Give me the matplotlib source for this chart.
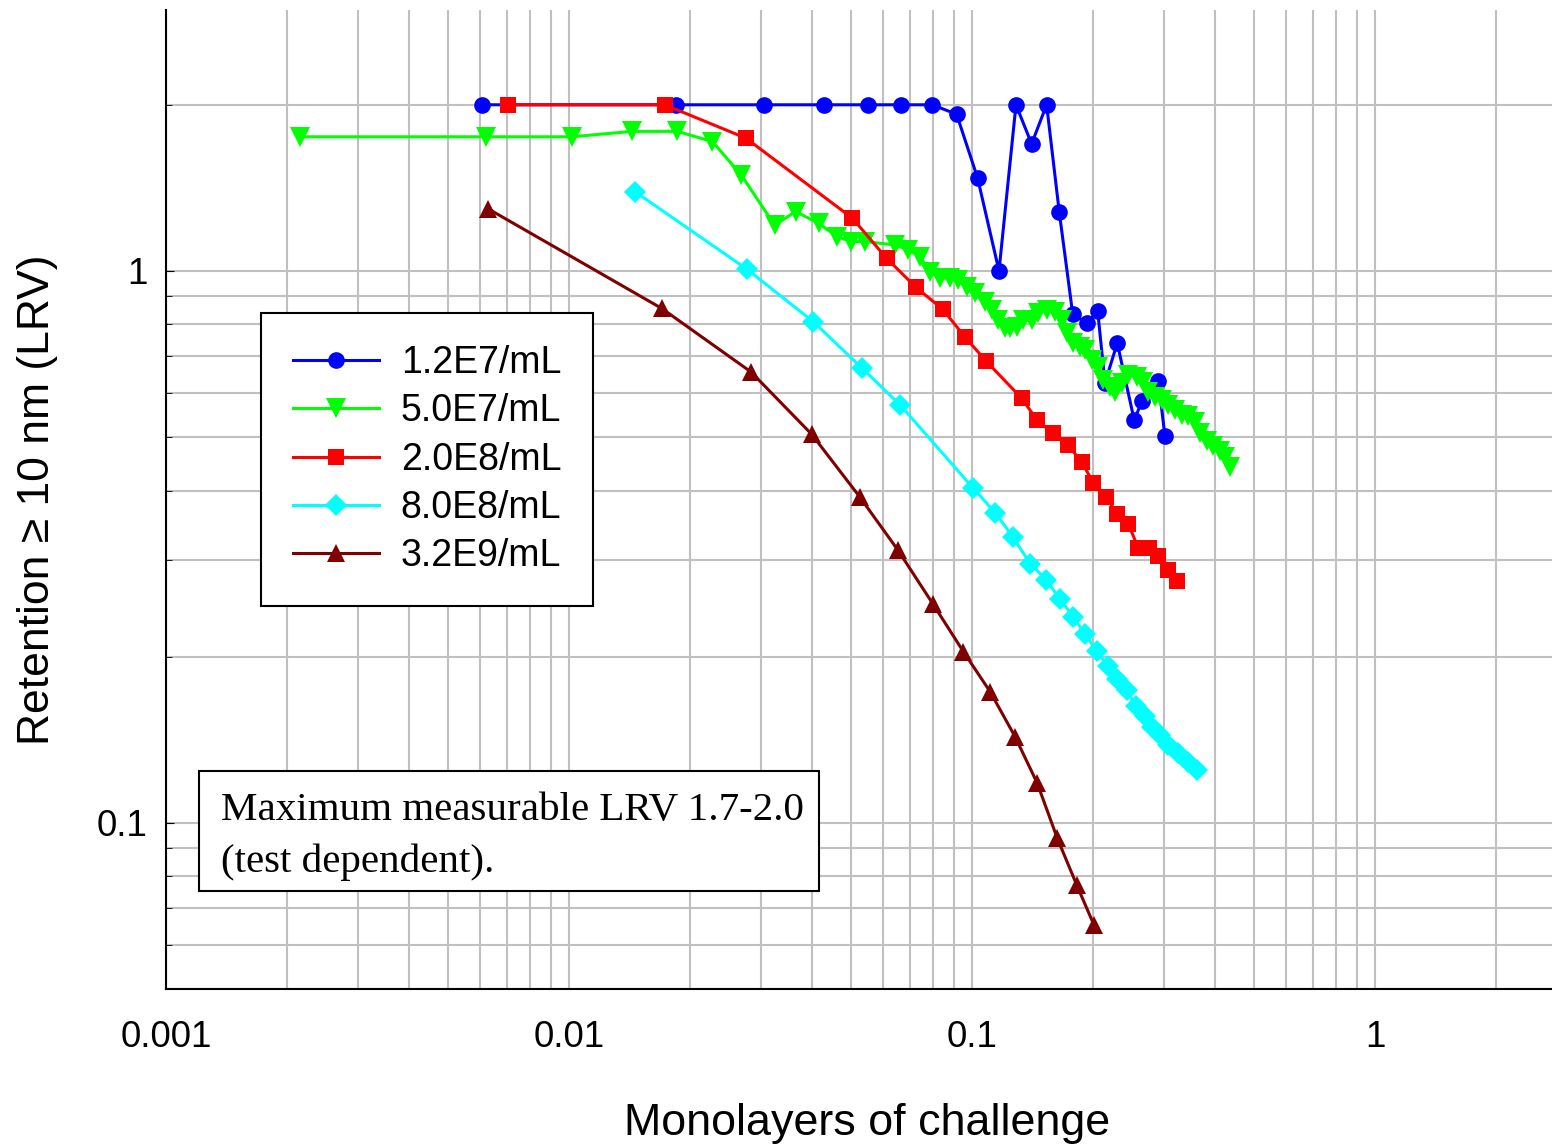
import matplotlib
matplotlib.use("Agg")
import matplotlib.pyplot as plt
from matplotlib.ticker import FixedLocator, FixedFormatter, LogLocator, NullFormatter

plt.rcParams['font.family'] = ['Liberation Sans', 'DejaVu Sans']

# ---- data ----
labels = ['1.2E7/mL', '5.0E7/mL', '2.0E8/mL', '8.0E8/mL', '3.2E9/mL']

blue_x = [0.00608, 0.0184, 0.0305, 0.0429, 0.0551, 0.0666, 0.0796, 0.0916, 0.1033,
          0.1167, 0.1286, 0.1406, 0.1532, 0.1647, 0.1778, 0.1926, 0.2051, 0.2138,
          0.2294, 0.2528, 0.2637, 0.2900, 0.3012]
blue_y = [2.0, 2.0, 2.0, 2.0, 2.0, 2.0, 2.0, 1.923, 1.472,
          1.0, 2.0, 1.699, 2.0, 1.277, 0.836, 0.804, 0.846, 0.627,
          0.740, 0.536, 0.580, 0.633, 0.502]

green_x = [0.00215, 0.00621, 0.01017, 0.01433, 0.01858, 0.0227, 0.02676, 0.03237, 0.0365,
           0.04163, 0.04624, 0.0501, 0.05426, 0.0644, 0.0695, 0.0743, 0.0787, 0.0833,
           0.0882, 0.0925, 0.0970, 0.1017, 0.1077, 0.1119, 0.1162, 0.1208, 0.1243,
           0.1291, 0.1341, 0.1406, 0.1461, 0.1532, 0.1607, 0.1670, 0.1718, 0.1784,
           0.1854, 0.1907, 0.1982, 0.2058, 0.2117, 0.2200, 0.2264, 0.2352, 0.2442,
           0.2563, 0.2661, 0.2738, 0.2845, 0.2956, 0.3070, 0.3190, 0.3314, 0.3441,
           0.3575, 0.3679, 0.3823, 0.3971, 0.4124, 0.4244, 0.4368]
green_y = [1.75, 1.75, 1.75, 1.79, 1.79, 1.715, 1.492, 1.211, 1.281,
           1.220, 1.154, 1.130, 1.130, 1.115, 1.092, 1.061, 0.997, 0.970,
           0.970, 0.963, 0.937, 0.911, 0.880, 0.850, 0.815, 0.788, 0.788,
           0.793, 0.815, 0.815, 0.838, 0.850, 0.844, 0.815, 0.771, 0.740,
           0.729, 0.719, 0.690, 0.671, 0.635, 0.617, 0.604, 0.626, 0.648,
           0.643, 0.630, 0.604, 0.592, 0.584, 0.572, 0.560, 0.548, 0.545,
           0.533, 0.508, 0.491, 0.481, 0.471, 0.461, 0.442]

red_x = [0.00705, 0.01728, 0.02748, 0.0505, 0.0614, 0.0726, 0.0846, 0.0961, 0.1083,
         0.1328, 0.1452, 0.1585, 0.1728, 0.1872, 0.2000, 0.2147, 0.2294, 0.2442,
         0.2587, 0.2754, 0.2900, 0.3059, 0.3221]
red_y = [2.0, 2.0, 1.740, 1.246, 1.054, 0.934, 0.852, 0.759, 0.687,
         0.588, 0.536, 0.509, 0.484, 0.451, 0.413, 0.390, 0.363, 0.348,
         0.315, 0.315, 0.305, 0.287, 0.274]

cyan_x = [0.01458, 0.0276, 0.0404, 0.0534, 0.0663, 0.1007, 0.1141, 0.1266, 0.1393,
          0.1527, 0.1654, 0.1784, 0.1907, 0.2039, 0.2171, 0.2286, 0.2420, 0.2553,
          0.2687, 0.2792, 0.2927, 0.3070, 0.3250, 0.3441, 0.3611]
cyan_y = [1.392, 1.008, 0.809, 0.666, 0.572, 0.404, 0.365, 0.329, 0.295,
          0.276, 0.254, 0.2365, 0.2197, 0.2049, 0.1925, 0.182, 0.174, 0.163,
          0.156, 0.1494, 0.1444, 0.1384, 0.1337, 0.1291, 0.1247]

maroon_x = [0.00631, 0.0170, 0.0283, 0.0400, 0.0526, 0.0655, 0.0799, 0.0952, 0.1109,
            0.1279, 0.1452, 0.1628, 0.1819, 0.2008]
maroon_y = [1.295, 0.855, 0.656, 0.506, 0.390, 0.312, 0.2496, 0.2043, 0.1729,
            0.1433, 0.1180, 0.0938, 0.0772, 0.0653]

x_ticks = [0.001, 0.01, 0.1, 1]
x_ticklabels = ['0.001', '0.01', '0.1', '1']
y_ticks = [0.1, 1]
y_ticklabels = ['0.1', '1']

series = [
    (blue_x, blue_y, '#0000ff', 'o', 12),
    (green_x, green_y, '#00ff00', 'v', 14),
    (red_x, red_y, '#ff0000', 's', 12),
    (cyan_x, cyan_y, '#00ffff', 'D', 11),
    (maroon_x, maroon_y, '#7f0000', '^', 13),
]

fig = plt.figure(figsize=(15.52, 11.44), dpi=100)
ax = fig.add_axes([166 / 1552, 155 / 1144, 1386 / 1552, 979 / 1144])

for (xs, ys, col, mk, ms), lab in zip(series, labels):
    ax.plot(xs, ys, color=col, marker=mk, markersize=ms, markeredgewidth=0,
            linewidth=2.2, label=lab)

ax.set_xscale('log')
ax.set_yscale('log')
ax.set_xlim(0.001, 2.75)
ax.set_ylim(0.05, 2.97)

ax.xaxis.set_major_locator(FixedLocator(x_ticks))
ax.xaxis.set_major_formatter(FixedFormatter(x_ticklabels))
ax.xaxis.set_minor_locator(LogLocator(base=10, subs=range(2, 10), numticks=20))
ax.xaxis.set_minor_formatter(NullFormatter())
ax.yaxis.set_major_locator(FixedLocator(y_ticks))
ax.yaxis.set_major_formatter(FixedFormatter(y_ticklabels))
ax.yaxis.set_minor_locator(LogLocator(base=10, subs=range(2, 10), numticks=20))
ax.yaxis.set_minor_formatter(NullFormatter())

ax.grid(True, which='both', color='#c0c0c0', linewidth=1.5)
ax.set_axisbelow(True)

ax.tick_params(axis='both', which='both', direction='in', labelsize=26.5)
ax.tick_params(axis='x', which='major', length=0, pad=22)
ax.tick_params(axis='x', which='minor', length=0)
ax.tick_params(axis='y', which='major', length=6, pad=13)
ax.tick_params(axis='y', which='minor', length=4)

for side in ['top', 'right']:
    ax.spines[side].set_visible(False)
for side in ['left', 'bottom']:
    ax.spines[side].set_linewidth(1.5)

ax.set_xlabel('Monolayers of challenge', fontsize=32.3, labelpad=35)
ax.xaxis.label.set_x(0.506)
ax.set_ylabel('Retention \u2265 10 nm (LRV)', fontsize=32, labelpad=28)

leg = ax.legend(loc='upper left', bbox_to_anchor=(0.0685, 0.6905), borderaxespad=0,
                fontsize=27, handlelength=2.3, handletextpad=0.58, borderpad=0.85,
                labelspacing=0.33, fancybox=False, framealpha=1, edgecolor='black')
leg.get_frame().set_linewidth(1.5)

# note box
ax.add_patch(plt.Rectangle((0.0238, 0.1001), 0.4473, 0.1226, transform=ax.transAxes,
                           facecolor='white', edgecolor='black', linewidth=1.5, zorder=5))
ax.text(0.0397, 0.1726, 'Maximum measurable LRV 1.7-2.0', transform=ax.transAxes,
        fontsize=29.5, family=['Liberation Serif', 'DejaVu Serif'], va='baseline', zorder=6)
ax.text(0.0397, 0.1195, '(test dependent).', transform=ax.transAxes,
        fontsize=29.5, family=['Liberation Serif', 'DejaVu Serif'], va='baseline', zorder=6)

fig.savefig('out.png', dpi=100)
